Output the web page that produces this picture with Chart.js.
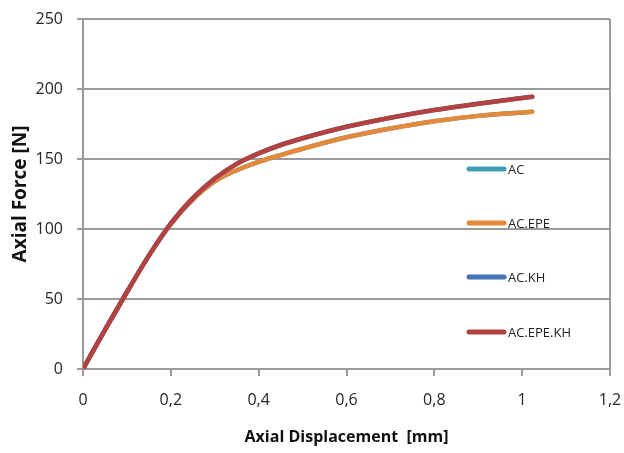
<!DOCTYPE html>
<html>
<head>
<meta charset="utf-8">
<script src="https://cdn.jsdelivr.net/npm/chart.js@4.4.1/dist/chart.umd.min.js"></script>
<style>
    html, body { margin: 0; padding: 0; background: #fff; }
    #wrap { width: 624px; height: 453px; }
</style>
</head>
<body>
<div id="wrap"><canvas id="forceChart"></canvas></div>
<script>
// axial displacement [mm]
const displacement = [0, 0.05, 0.1, 0.15, 0.2, 0.25, 0.3, 0.35, 0.4, 0.45, 0.5, 0.6, 0.7, 0.8, 0.9, 1.023];

// axial force [N] per model
const forceAC      = [0, 28, 55, 81, 103.5, 121, 134, 142, 148, 152.8, 157.3, 165.5, 171.8, 177, 180.8, 183.8];
const forceACEPE   = [0, 28, 55, 81, 103.5, 121, 134, 142, 148, 152.8, 157.3, 165.5, 171.8, 177, 180.8, 183.8];
const forceACKH    = [0, 28, 55, 81, 104, 122, 136, 146.5, 154, 160, 164.8, 173, 179.5, 185, 189.5, 194.5];
const forceACEPEKH = [0, 28, 55, 81, 104, 122, 136, 146.5, 154, 160, 164.8, 173, 179.5, 185, 189.5, 194.5];

const seriesNames = ["AC", "AC.EPE", "AC.KH", "AC.EPE.KH"];
const seriesColors = ["#3f9db6", "#e4883a", "#4373b4", "#b2413f"];

const xTickLabels = ["0", "0,2", "0,4", "0,6", "0,8", "1", "1,2"];
const yTickLabels = ["0", "50", "100", "150", "200", "250"];

const FONT = "'Open Sans', sans-serif";
const GRID = "#9a9a9a";

function toPoints(ys) {
    return displacement.map((x, i) => ({ x: x, y: ys[i] }));
}

// legend sits inside the plot, on the right, spread out
const sideLegend = {
    id: "sideLegend",
    afterDraw(chart) {
        const ctx = chart.ctx;
        const rows = [169, 223, 277, 332];
        ctx.save();
        chart.data.datasets.forEach((ds, i) => {
            let y = rows[i];
            ctx.strokeStyle = ds.borderColor;
            ctx.lineWidth = 5;
            ctx.lineCap = "round";
            ctx.beginPath();
            ctx.moveTo(469, y);
            ctx.lineTo(504, y);
            ctx.stroke();
            ctx.fillStyle = "#222";
            ctx.font = "13px " + FONT;
            ctx.textBaseline = "middle";
            ctx.textAlign = "left";
            ctx.fillText(ds.label, 508, y + 1);
        });
        ctx.restore();
    }
};

// right frame line
const rightFrame = {
    id: "rightFrame",
    beforeDatasetsDraw(chart) {
        const a = chart.chartArea;
        const ctx = chart.ctx;
        ctx.save();
        ctx.strokeStyle = GRID;
        ctx.lineWidth = 2;
        ctx.beginPath();
        ctx.moveTo(a.right, a.top);
        ctx.lineTo(a.right, a.bottom);
        ctx.stroke();
        ctx.restore();
    }
};

const allForces = [forceAC, forceACEPE, forceACKH, forceACEPEKH];

let ctx = document.getElementById("forceChart").getContext("2d");

let forceChart = new Chart(ctx, {
    type: "line",
    data: {
        datasets: allForces.map((f, i) => ({
            label: seriesNames[i],
            data: toPoints(f),
            borderColor: seriesColors[i],
            backgroundColor: seriesColors[i],
            borderWidth: 4.5,
            borderCapStyle: "round",
            pointRadius: 0,
            cubicInterpolationMode: "monotone",
            fill: false,
            order: allForces.length - i   // last series on top
        }))
    },
    options: {
        responsive: true,
        maintainAspectRatio: false,
        animation: false,
        layout: { padding: { top: 19, right: 14, left: 0, bottom: 0 } },
        plugins: {
            legend: { display: false },
            tooltip: { enabled: false }
        },
        scales: {
            x: {
                type: "linear",
                min: 0,
                max: 1.2,
                afterBuildTicks: (scale) => {
                    scale.ticks = xTickLabels.map((t, i) => ({ value: i * 0.2 }));
                },
                afterFit: (scale) => {
                    scale.height = 84;
                    scale.paddingLeft = 0;
                    scale.paddingRight = 0;
                },
                grid: {
                    drawOnChartArea: false,
                    drawTicks: true,
                    tickLength: 7,
                    color: GRID,
                    lineWidth: 2
                },
                border: { color: GRID, width: 2 },
                ticks: {
                    color: "#262626",
                    font: { family: FONT, size: 16 },
                    padding: 15,
                    maxRotation: 0,
                    autoSkip: false,
                    callback: (value, index) => xTickLabels[index]
                },
                title: {
                    display: true,
                    text: "Axial Displacement  [mm]",
                    color: "#111",
                    font: { family: FONT, size: 16, weight: "bold" },
                    padding: { top: 0, bottom: 6 }
                }
            },
            y: {
                min: 0,
                max: 250,
                afterBuildTicks: (scale) => {
                    scale.ticks = yTickLabels.map((t, i) => ({ value: i * 50 }));
                },
                afterFit: (scale) => {
                    scale.width = 83;
                    scale.paddingTop = 0;
                    scale.paddingBottom = 0;
                },
                grid: {
                    drawTicks: true,
                    tickLength: 6,
                    color: GRID,
                    lineWidth: 2
                },
                border: { color: GRID, width: 2 },
                ticks: {
                    color: "#262626",
                    font: { family: FONT, size: 16 },
                    padding: 14,
                    callback: (value, index) => yTickLabels[index]
                },
                title: {
                    display: true,
                    text: "Axial Force [N]",
                    color: "#111",
                    font: { family: FONT, size: 19, weight: "bold" },
                    padding: { top: 9, bottom: 0 }
                }
            }
        }
    },
    plugins: [rightFrame, sideLegend]
});
</script>
</body>
</html>
